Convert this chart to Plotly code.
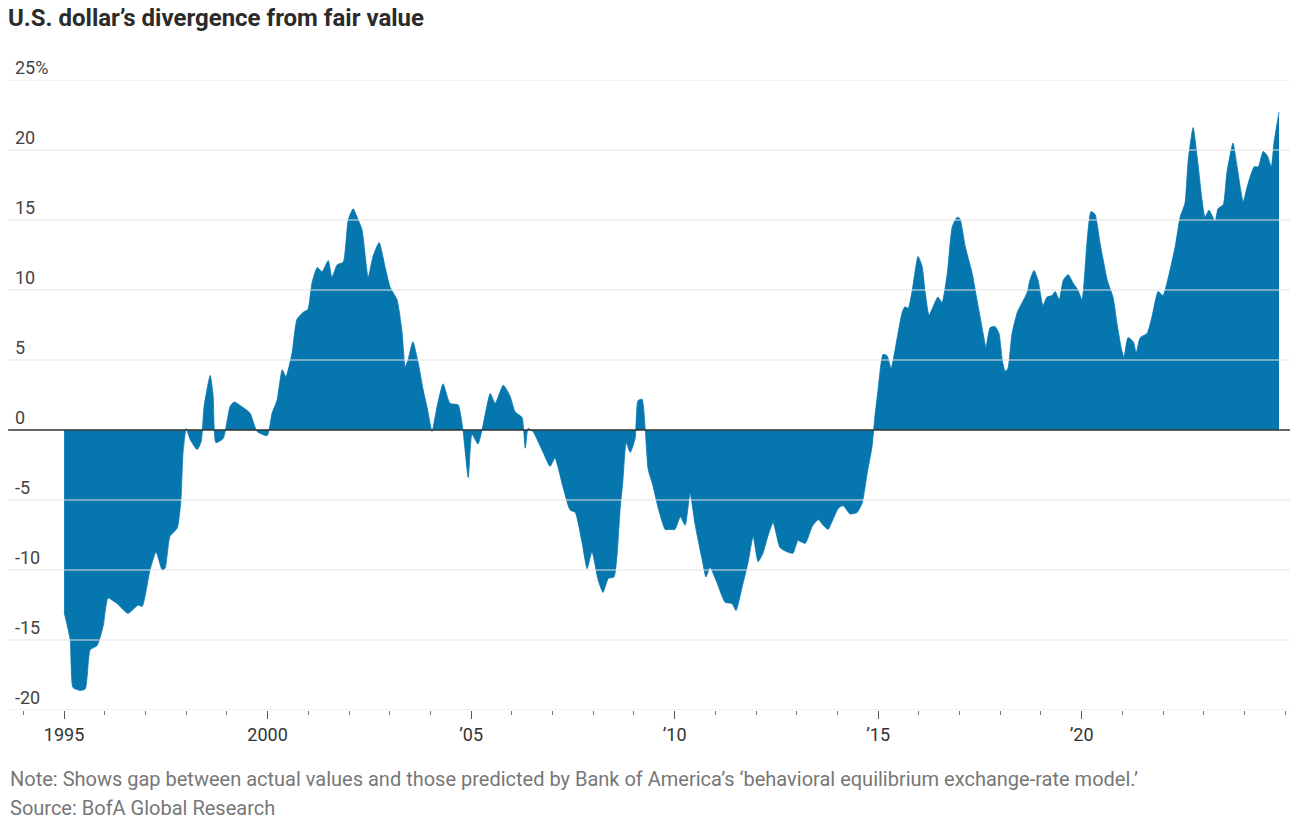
import plotly.graph_objects as go

# Decimal years and divergence values (%)
years = [
    1995.0, 1995.15, 1995.22, 1995.39, 1995.52, 1995.64, 1995.81, 1995.96, 1996.08, 1996.30,
    1996.57, 1996.82, 1996.92, 1997.11, 1997.26, 1997.41, 1997.48, 1997.60, 1997.78, 1997.87,
    1997.92, 1998.00, 1998.10, 1998.27, 1998.37, 1998.44, 1998.59, 1998.66, 1998.73, 1998.91,
    1999.08, 1999.18, 1999.40, 1999.57, 1999.74, 1999.99, 2000.11, 2000.23, 2000.36, 2000.45,
    2000.60, 2000.72, 2000.87, 2000.99, 2001.09, 2001.22, 2001.34, 2001.49, 2001.58, 2001.71,
    2001.86, 2001.98, 2002.10, 2002.20, 2002.32, 2002.47, 2002.59, 2002.74, 2002.89, 2003.01,
    2003.18, 2003.30, 2003.38, 2003.45, 2003.57, 2003.70, 2003.82, 2003.92, 2004.04, 2004.16,
    2004.31, 2004.48, 2004.68, 2004.80, 2004.93, 2005.02, 2005.17, 2005.29, 2005.47, 2005.59,
    2005.79, 2005.96, 2006.08, 2006.25, 2006.33, 2006.40, 2006.52, 2006.77, 2006.94, 2007.06,
    2007.26, 2007.43, 2007.56, 2007.73, 2007.85, 2007.97, 2008.12, 2008.24, 2008.37, 2008.51,
    2008.59, 2008.66, 2008.73, 2008.81, 2008.91, 2009.03, 2009.10, 2009.20, 2009.28, 2009.35,
    2009.47, 2009.59, 2009.77, 2009.89, 2010.01, 2010.14, 2010.26, 2010.38, 2010.50, 2010.68,
    2010.77, 2010.87, 2011.04, 2011.24, 2011.41, 2011.51, 2011.66, 2011.81, 2011.93, 2012.05,
    2012.17, 2012.30, 2012.42, 2012.59, 2012.76, 2012.91, 2013.03, 2013.21, 2013.38, 2013.53,
    2013.65, 2013.77, 2013.89, 2014.02, 2014.14, 2014.31, 2014.48, 2014.61, 2014.73, 2014.85,
    2014.93, 2015.00, 2015.12, 2015.22, 2015.32, 2015.47, 2015.59, 2015.66, 2015.74, 2015.84,
    2015.98, 2016.08, 2016.15, 2016.25, 2016.35, 2016.47, 2016.57, 2016.70, 2016.82, 2016.94,
    2017.01, 2017.14, 2017.31, 2017.46, 2017.58, 2017.65, 2017.75, 2017.87, 2017.97, 2018.05,
    2018.12, 2018.19, 2018.29, 2018.42, 2018.54, 2018.66, 2018.73, 2018.83, 2018.93, 2019.05,
    2019.15, 2019.27, 2019.35, 2019.45, 2019.55, 2019.67, 2019.79, 2019.91, 2020.01, 2020.14,
    2020.23, 2020.33, 2020.45, 2020.63, 2020.77, 2020.87, 2020.97, 2021.04, 2021.14, 2021.27,
    2021.34, 2021.44, 2021.61, 2021.73, 2021.88, 2022.00, 2022.13, 2022.30, 2022.42, 2022.54,
    2022.62, 2022.74, 2022.84, 2022.96, 2023.03, 2023.13, 2023.28, 2023.35, 2023.48, 2023.57,
    2023.72, 2023.82, 2023.97, 2024.07, 2024.24, 2024.34, 2024.46, 2024.56, 2024.66, 2024.73,
    2024.85,
]
divergence = [
    -13.0, -15.0, -18.4, -18.6, -18.5, -15.7, -15.4, -14.0, -12.0, -12.4,
    -13.1, -12.5, -12.6, -10.0, -8.7, -10.0, -9.9, -7.6, -7.0, -5.0,
    -1.7, 0.1, -0.7, -1.4, -0.8, 1.7, 3.9, 2.5, -0.9, -0.6,
    1.7, 2.0, 1.6, 1.2, -0.1, -0.4, 1.2, 2.1, 4.3, 3.8,
    5.5, 7.9, 8.4, 8.6, 10.5, 11.6, 11.3, 12.1, 10.9, 11.8,
    12.0, 15.0, 15.8, 15.2, 14.3, 10.9, 12.4, 13.4, 11.6, 10.2,
    9.3, 7.1, 4.5, 5.0, 6.3, 4.8, 2.9, 1.6, -0.1, 1.6,
    3.3, 1.9, 1.8, 0.0, -3.4, -0.3, -1.0, 0.3, 2.6, 1.9,
    3.2, 2.4, 1.3, 0.9, -1.3, 0.1, -0.1, -1.6, -2.6, -2.0,
    -4.1, -5.7, -5.9, -8.1, -9.9, -8.7, -10.7, -11.6, -10.6, -10.5,
    -8.8, -5.7, -3.6, -0.9, -1.6, -0.6, 2.1, 2.2, 0.0, -2.8,
    -4.0, -5.5, -7.1, -7.1, -7.1, -6.2, -6.8, -4.5, -6.7, -9.3,
    -10.5, -9.8, -10.9, -12.3, -12.4, -12.9, -11.2, -9.4, -7.6, -9.4,
    -8.8, -7.5, -6.6, -8.4, -8.7, -8.8, -7.9, -8.1, -6.9, -6.4,
    -6.8, -7.1, -6.4, -5.6, -5.4, -6.0, -5.9, -5.2, -3.1, -1.2,
    1.2, 2.9, 5.4, 5.3, 4.4, 6.6, 8.4, 8.8, 8.7, 10.0,
    12.4, 11.7, 10.0, 8.2, 8.8, 9.5, 9.1, 11.2, 14.5, 15.2,
    15.1, 13.1, 11.2, 8.8, 6.9, 5.9, 7.3, 7.4, 6.9, 5.0,
    4.2, 4.4, 6.9, 8.4, 9.1, 9.8, 10.7, 11.4, 10.7, 8.9,
    9.5, 9.6, 9.9, 9.3, 10.7, 11.1, 10.5, 10.0, 9.3, 13.7,
    15.6, 15.4, 13.4, 10.7, 9.5, 7.6, 5.9, 5.2, 6.6, 6.3,
    5.5, 6.6, 6.9, 8.1, 9.9, 9.6, 10.9, 13.1, 15.2, 16.2,
    19.3, 21.6, 19.5, 16.4, 15.2, 15.7, 14.9, 15.8, 16.1, 18.4,
    20.5, 18.8, 16.3, 17.4, 18.8, 18.8, 19.9, 19.6, 18.8, 20.6,
    22.7,
]

y_ticks = [25, 20, 15, 10, 5, 0, -5, -10, -15, -20]
y_tick_text = ["25%", "20", "15", "10", "5", "0", "-5", "-10", "-15", "-20"]
x_ticks = [1995, 2000, 2005, 2010, 2015, 2020]
x_tick_text = ["1995", "2000", "’05", "’10", "’15", "’20"]

title = "U.S. dollar’s divergence from fair value"
note = ("Note: Shows gap between actual values and those predicted by Bank of America’s "
        "‘behavioral equilibrium exchange-rate model.’")
source = "Source: BofA Global Research"

FILL = "#0677ae"
FONT = "Roboto"

fig = go.Figure()
fig.add_trace(go.Scatter(
    x=years, y=divergence, mode="lines", fill="tozeroy",
    fillcolor=FILL, line=dict(color=FILL, width=0.8, shape="spline", smoothing=0.5),
    hoverinfo="x+y", showlegend=False,
))

shapes = []
for v in y_ticks:
    if v == 0:
        continue
    shapes.append(dict(type="line", xref="paper", yref="y", x0=-0.003, x1=1, y0=v, y1=v,
                       line=dict(color="#e3e3e3", width=1), layer="above"))
shapes.append(dict(type="line", xref="paper", yref="y", x0=-0.003, x1=1, y0=0, y1=0,
                   line=dict(color="#333333", width=1.5), layer="above"))

fig.update_layout(
    width=1298, height=823,
    margin=dict(l=12, r=8, t=80, b=113),
    paper_bgcolor="white", plot_bgcolor="white",
    font=dict(family=FONT, color="#444444"),
    title=dict(text="<b>" + title + "</b>", x=8 / 1298, xref="container", xanchor="left",
               y=1 - 18 / 823, yref="container", yanchor="middle",
               font=dict(family=FONT, size=24, color="#2b2b2b")),
    xaxis=dict(range=[1993.72, 2025.12], tickvals=x_ticks, ticktext=x_tick_text,
               ticks="outside", ticklen=8, tickcolor="#555555", tickwidth=1,
               showgrid=False, zeroline=False, showline=False,
               tickfont=dict(size=18, color="#333333"),
               minor=dict(tick0=1995, dtick=1, ticks="outside", ticklen=4,
                          tickcolor="#777777", showgrid=False)),
    yaxis=dict(range=[-20, 25], tickvals=y_ticks, ticktext=y_tick_text,
               ticklabelposition="inside top", ticklabeloverflow="allow",
               showgrid=False, zeroline=False,
               showline=False, ticks="", tickfont=dict(size=18, color="#444444")),
    shapes=shapes,
    annotations=[
        dict(text=note, xref="paper", yref="paper", x=-0.003, y=-0.1095,
             xanchor="left", yanchor="middle", showarrow=False,
             font=dict(family=FONT, size=20, color="#777777")),
        dict(text=source, xref="paper", yref="paper", x=-0.003, y=-0.1556,
             xanchor="left", yanchor="middle", showarrow=False,
             font=dict(family=FONT, size=20, color="#777777")),
    ],
)

fig.write_html("out.html")
